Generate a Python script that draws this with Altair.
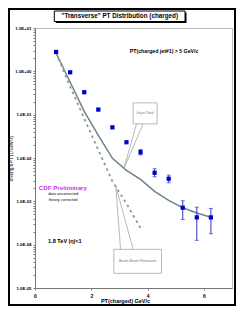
import altair as alt
import pandas as pd

FONT = "Liberation Sans"

# ---- data ----
pt = [0.75, 1.25, 1.75, 2.25, 2.75, 3.25, 3.75, 4.25, 4.75, 5.25, 5.75, 6.25]
dn_data = [2.8, 0.95, 0.33, 0.131, 0.051, 0.0231, 0.0136, 0.00456, 0.00332, 0.000713, 0.000426, 0.000426]

err_pt = [3.75, 4.25, 4.75, 5.25, 5.75, 6.25]
err_hi = [0.0157, 0.00564, 0.00402, 0.00103, 0.000734, 0.000686]
err_lo = [0.0118, 0.00369, 0.00269, 0.000383, 0.000126, 0.000179]

total_pt = [0.75, 1.25, 1.75, 2.25, 2.75, 3.25, 3.75, 4.25, 4.75, 5.25, 5.75, 6.25]
total = [2.65, 0.56, 0.119, 0.0333, 0.0098, 0.0052, 0.0032, 0.0017, 0.00105, 0.00071, 0.00054, 0.00043]

bbr_pt = [0.75, 1.25, 1.75, 2.25, 2.75, 3.25, 3.75]
bbr = [2.65, 0.44, 0.081, 0.0153, 0.0029, 0.00089, 0.00024]

x_ticks = [0, 1, 2, 3, 4, 5, 6, 7]
y_decades = [1e-5, 1e-4, 1e-3, 1e-2, 1e-1, 1e0, 1e1]
y_minor_mult = [2, 3, 4, 5, 6, 7, 8, 9]

# annotation texts (positions in data units)
notes_text = ["PT(charged jet#1) > 5 GeV/c", "CDF Preliminary", "data uncorrected",
              "theory corrected", "1.8 TeV |\u03b7|<1"]
notes_x = [3.37, 0.99, 1.0, 1.0, 1.06]
notes_y = [2.89, 0.00198, 0.00144, 0.00105, 0.000121]
notes_color = ["black", "#cc33ee", "black", "black", "black"]
notes_size = [5.2, 6.2, 4.0, 4.0, 5.6]
notes_weight = ["bold", "bold", "normal", "normal", "bold"]
notes_align = ["left", "center", "center", "center", "center"]

callout_text = ["Isajet Total", "Beam-Beam Remnants"]
callout_x1 = [3.487, 2.802]
callout_x2 = [4.338, 4.494]
callout_y1 = [0.187, 7.8e-5]
callout_y2 = [0.0614, 2.18e-5]
callout_tx = [3.913, 3.647]
callout_ty = [0.107, 4.12e-5]
ptr_bx = [3.608, 3.842, 3.04, 3.487]
ptr_by = [0.0614, 0.0614, 7.8e-5, 7.8e-5]
ptr_tx = [3.157, 3.157, 2.873, 2.873]
ptr_ty = [0.00564, 0.00564, 0.00224, 0.00224]

# ---- tables ----
df_pts = pd.DataFrame({"pt": pt, "dn": dn_data})
df_err = pd.DataFrame({"pt": err_pt, "hi": err_hi, "lo": err_lo})
df_tot = pd.DataFrame({"pt": total_pt, "v": total})
df_bbr = pd.DataFrame({"pt": bbr_pt, "v": bbr})
df_notes = pd.DataFrame({"t": notes_text, "x": notes_x, "y": notes_y, "c": notes_color,
                         "s": notes_size, "w": notes_weight, "a": notes_align})
df_call = pd.DataFrame({"t": callout_text, "x1": callout_x1, "x2": callout_x2,
                        "y1": callout_y1, "y2": callout_y2, "tx": callout_tx, "ty": callout_ty})
df_ptr = pd.DataFrame({"bx": ptr_bx, "by": ptr_by, "tx": ptr_tx, "ty": ptr_ty})

y_values = y_decades + [m * d for d in y_decades[:-1] for m in y_minor_mult]

xs = alt.Scale(domain=[0, 7], nice=False, zero=False)
ys = alt.Scale(type="log", domain=[1e-5, 10], nice=False)

label_expr = (
    "abs(log(datum.value)/LN10 - round(log(datum.value)/LN10)) < 0.001 ? "
    "('1.0E' + (round(log(datum.value)/LN10) < 0 ? '-' : '+') + "
    "(abs(round(log(datum.value)/LN10)) < 10 ? '0' : '') + abs(round(log(datum.value)/LN10))) : ''"
)

x_axis = alt.Axis(values=x_ticks, title="PT(charged)  GeV/c", labelFont=FONT, labelFontSize=5,
                  labelFontWeight="bold", labelColor="black", tickSize=2, labelPadding=3,
                  domainColor="#777", tickColor="#777", grid=False, titleFont=FONT,
                  titleFontSize=5.5, titleFontWeight="bold", titleColor="black",
                  titleX=90, titleY=12.5, titleBaseline="middle", labelOverlap=False,
                  labelFlush=False)
y_axis = alt.Axis(values=y_values, labelExpr=label_expr, title="dNchg/dPT (1/GeV/c)",
                  labelFont=FONT, labelFontSize=4.3, labelFontWeight="bold", labelColor="black",
                  tickSize=2, labelPadding=2, domainColor="#777", tickColor="#777", grid=False,
                  titleFont=FONT, titleFontSize=4.8, titleFontWeight="normal", titleColor="black",
                  titleX=-24, titleY=130, titleAngle=270, titleBaseline="middle", labelFlush=False,
                  labelOverlap=False)

one = pd.DataFrame({"k": [0]})
# outer frame and title box (decoration)
frame = alt.Chart(one).mark_rect(fill=None, stroke="black", strokeWidth=2).encode(
    x=alt.value(-26), x2=alt.value(200), y=alt.value(-19), y2=alt.value(277))
title_shadow = alt.Chart(one).mark_rect(fill="black").encode(
    x=alt.value(20.8), x2=alt.value(151.5), y=alt.value(-15.5), y2=alt.value(-5))
title_box = alt.Chart(one).mark_rect(fill="white", stroke="black", strokeWidth=1).encode(
    x=alt.value(19.3), x2=alt.value(150), y=alt.value(-17), y2=alt.value(-6.5))
title_text = alt.Chart(pd.DataFrame({"t": ['"Transverse" PT Distribution (charged)']})).mark_text(
    font=FONT, fontSize=6.3, fontWeight="bold", color="black", align="center", baseline="middle").encode(
    x=alt.value(84.7), y=alt.value(-11.6), text="t:N")

line_tot = alt.Chart(df_tot).mark_line(color="#6e8585", strokeWidth=1.5).encode(
    x=alt.X("pt:Q", scale=xs, axis=x_axis), y=alt.Y("v:Q", scale=ys, axis=y_axis))
line_bbr = alt.Chart(df_bbr).mark_line(color="#8a9a9a", strokeWidth=1.8, strokeDash=[2.5, 3.5]).encode(
    x=alt.X("pt:Q", scale=xs), y=alt.Y("v:Q", scale=ys))

ptr = alt.Chart(df_ptr).mark_rule(color="#a0a8a8", strokeWidth=0.8).encode(
    x=alt.X("bx:Q", scale=xs), y=alt.Y("by:Q", scale=ys), x2="tx:Q", y2="ty:Q")
call_box = alt.Chart(df_call).mark_rect(fill="white", stroke="#a0a8a8", strokeWidth=0.8).encode(
    x=alt.X("x1:Q", scale=xs), x2="x2:Q", y=alt.Y("y1:Q", scale=ys), y2="y2:Q")
call_txt = alt.Chart(df_call).mark_text(font=FONT, fontSize=3.6, color="#777", align="center",
                                        baseline="middle").encode(
    x=alt.X("tx:Q", scale=xs), y=alt.Y("ty:Q", scale=ys), text="t:N")

err_rule = alt.Chart(df_err).mark_rule(color="#3333cc", strokeWidth=1).encode(
    x=alt.X("pt:Q", scale=xs), y=alt.Y("lo:Q", scale=ys), y2="hi:Q")
err_cap_hi = alt.Chart(df_err).mark_tick(color="#3333cc", orient="horizontal", size=4, thickness=1).encode(
    x=alt.X("pt:Q", scale=xs), y=alt.Y("hi:Q", scale=ys))
err_cap_lo = alt.Chart(df_err).mark_tick(color="#3333cc", orient="horizontal", size=4, thickness=1).encode(
    x=alt.X("pt:Q", scale=xs), y=alt.Y("lo:Q", scale=ys))
points = alt.Chart(df_pts).mark_point(shape="square", filled=True, size=18, color="#0000cc", opacity=1).encode(
    x=alt.X("pt:Q", scale=xs), y=alt.Y("dn:Q", scale=ys))

notes_left = alt.Chart(df_notes[df_notes["a"] == "left"]).mark_text(
    font=FONT, baseline="middle", align="left", fontWeight="bold", fontSize=5.2, color="black").encode(
    x=alt.X("x:Q", scale=xs), y=alt.Y("y:Q", scale=ys), text="t:N")
df_c = df_notes[df_notes["a"] == "center"]
notes_c_bold = alt.Chart(df_c[df_c["w"] == "bold"]).mark_text(
    font=FONT, baseline="middle", align="center", fontWeight="bold").encode(
    x=alt.X("x:Q", scale=xs), y=alt.Y("y:Q", scale=ys), text="t:N",
    color=alt.Color("c:N", scale=None), size=alt.Size("s:Q", scale=None))
notes_c_norm = alt.Chart(df_c[df_c["w"] == "normal"]).mark_text(
    font=FONT, baseline="middle", align="center", fontWeight="normal").encode(
    x=alt.X("x:Q", scale=xs), y=alt.Y("y:Q", scale=ys), text="t:N",
    color=alt.Color("c:N", scale=None), size=alt.Size("s:Q", scale=None))

chart = alt.layer(
    frame, title_shadow, title_box, title_text,
    line_tot, line_bbr, ptr, call_box, call_txt,
    err_rule, err_cap_hi, err_cap_lo, points,
    notes_left, notes_c_bold, notes_c_norm,
).properties(
    width=197, height=260,
    autosize=alt.AutoSizeParams(type="none"),
    padding={"left": 27, "top": 20, "right": 4, "bottom": 18},
    background="white",
).configure_view(stroke="#bbbbbb", strokeWidth=1)

chart.save("out.html", embed_options={"renderer": "svg", "actions": False})
